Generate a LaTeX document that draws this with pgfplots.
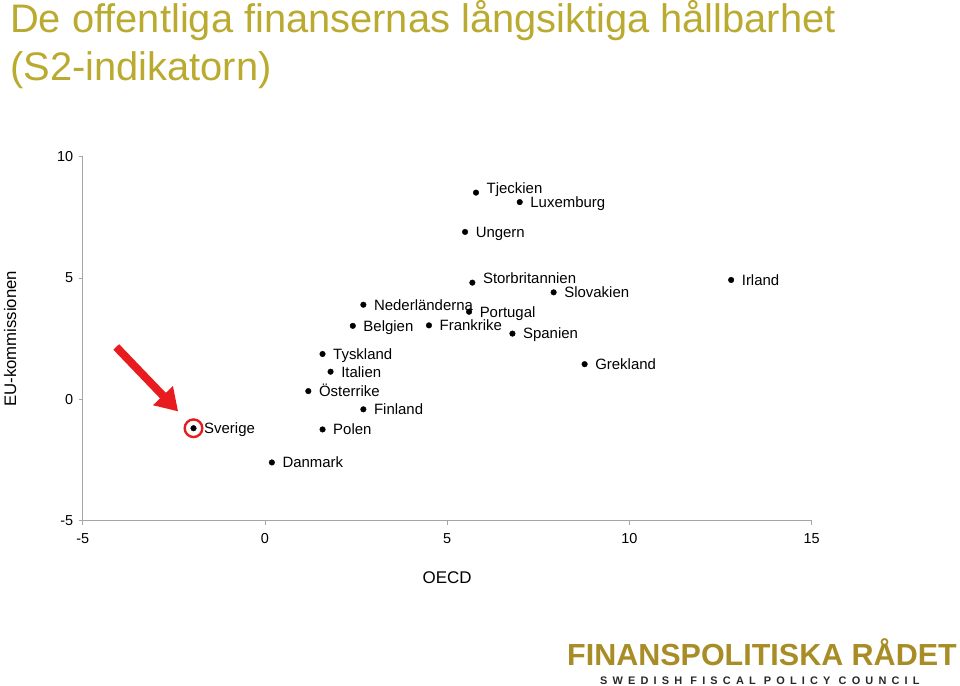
\documentclass[border=0pt]{standalone}
\usepackage{fontspec}
\setmainfont{Liberation Sans}
\usepackage{pgfplots}
\pgfplotsset{compat=1.18}
\usetikzlibrary{arrows.meta}
\definecolor{titlegold}{RGB}{186,170,48}
\definecolor{logogold}{RGB}{168,140,38}
\definecolor{axgray}{RGB}{165,165,165}
\definecolor{arrowred}{RGB}{232,28,30}
\definecolor{logogray}{RGB}{40,40,40}

\begin{document}
\begin{tikzpicture}
\useasboundingbox (0,0) rectangle (960bp,686bp);
\node[anchor=base west, inner sep=0, text=titlegold, font=\fontsize{40}{44}\selectfont] at (10bp,653bp) {De offentliga finansernas långsiktiga hållbarhet};
\node[anchor=base west, inner sep=0, text=titlegold, font=\fontsize{40}{44}\selectfont] at (10bp,605bp) {(S2-indikatorn)};
\begin{axis}[
  at={(82.7bp,165.3bp)}, anchor=south west,
  scale only axis, width=729bp, height=364bp,
  xmin=-5, xmax=15, ymin=-5, ymax=10,
  xtick={-5,0,5,10,15}, ytick={-5,0,5,10},
  axis x line=bottom, axis y line=left,
  axis line style={axgray, -, line width=0.8bp},
  tick align=outside, major tick length=4bp,
  tick style={axgray, line width=0.8bp},
  ticklabel style={font=\fontsize{14.5}{16}\selectfont},
  /pgf/number format/assume math mode=true,
  xticklabel style={yshift=-5bp},
  yticklabel style={xshift=-2bp},
  xlabel={OECD},
  xlabel style={at={(axis description cs:0.5,0)}, anchor=center, yshift=-57.3bp, font=\fontsize{17}{19}\selectfont},
  ylabel={EU-kommissionen},
  ylabel style={at={(axis description cs:-0.0997,0.5)}, anchor=center, rotate=0, font=\fontsize{16.8}{18}\selectfont},
  clip=false,
]
% red arrow pointing to Sverige
\draw[arrowred, line width=8bp, -{Triangle[length=22bp,width=26bp]}] (axis cs:-4.08,2.16) -- (axis cs:-2.38,-0.50);
% red circle around Sverige
\addplot[only marks, mark=o, mark size=8.8bp, arrowred, mark options={line width=2.4bp}] coordinates {(-1.96,-1.19)};
% countries
\addplot[only marks, mark=*, mark size=2.8bp, black,
  point meta=explicit symbolic, nodes near coords,
  nodes near coords align={anchor=west},
  every node near coord/.append style={anchor=west, inner sep=0pt, text height=10.7bp, text depth=0bp, xshift=10.5bp, font=\fontsize{15}{17}\selectfont, text=black}]
  table[meta=label] {
x y label
-1.96 -1.19 Sverige
0.19 -2.60 Danmark
1.58 -1.24 Polen
2.70 -0.41 Finland
1.19 0.34 Österrike
1.80 1.14 Italien
1.58 1.87 Tyskland
2.41 3.03 Belgien
2.70 3.90 Nederländerna
4.50 3.05 Frankrike
5.60 3.61 Portugal
6.79 2.71 Spanien
7.92 4.41 Slovakien
12.79 4.92 Irland
8.77 1.45 Grekland
5.49 6.90 Ungern
6.99 8.13 Luxemburg
};
\addplot[only marks, mark=*, mark size=2.8bp, black,
  point meta=explicit symbolic, nodes near coords,
  nodes near coords align={anchor=west},
  every node near coord/.append style={anchor=west, inner sep=0pt, text height=10.7bp, text depth=0bp, xshift=10.5bp, yshift=4bp, font=\fontsize{15}{17}\selectfont, text=black}]
  table[meta=label] {
x y label
5.69 4.81 Storbritannien
5.79 8.52 Tjeckien
};
\end{axis}
\node[anchor=base west, inner sep=0, text=logogold, font=\fontsize{30.6}{32}\selectfont\bfseries] at (567bp,21bp) {FINANSPOLITISKA RÅDET};
\node[anchor=base west, inner sep=0, text=logogray, font={\fontsize{11}{12}\selectfont\bfseries\addfontfeature{LetterSpace=47}}] at (600bp,2bp) {SWEDISH FISCAL POLICY COUNCIL};
\end{tikzpicture}
\end{document}
